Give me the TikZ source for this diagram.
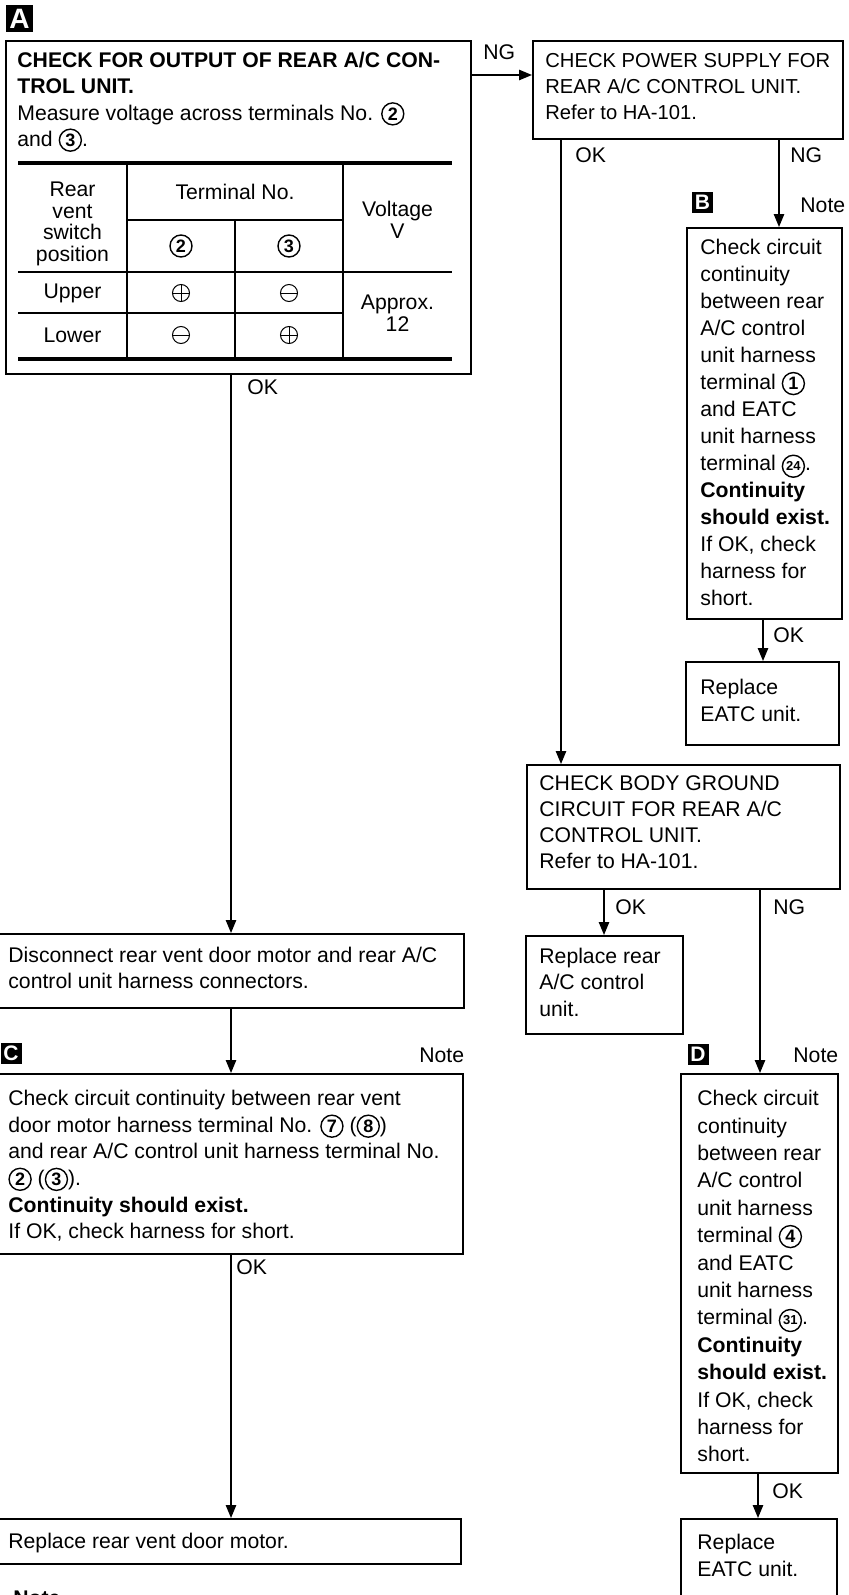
\documentclass[tikz,border=0pt]{standalone}
\usepackage{fontspec}
\setmainfont{Liberation Sans}
\usetikzlibrary{arrows.meta}

% 圈码
\newcommand{\cnum}[1]{\tikz[baseline=(cn.base)]\node[cnode] (cn) {#1};}
\newcommand{\cnumm}[1]{\tikz[baseline=(cn.base)]\node[cnode, font=\bfseries\fontsize{6.5}{6.5}\selectfont] (cn) {#1};}

\begin{document}
\begin{tikzpicture}[x=0.5pt, y=-0.5pt, >={Triangle[length=6.5pt, width=5.2pt]},
		box/.style={draw, line width=0.9pt, anchor=north west, inner sep=0pt},
		txt/.style={anchor=north west, inner sep=0pt, align=left, font=\fontsize{10.6}{13.1}\selectfont},
		ntxt/.style={txt, font=\fontsize{10.6}{13.5}\selectfont},
		lbl/.style={anchor=west, inner sep=0pt, font=\fontsize{10.6}{12}\selectfont},
		cell/.style={inner sep=0pt, align=center, font=\fontsize{10.6}{10.8}\selectfont},
		badge/.style={fill=black, text=white, inner sep=0pt, minimum size=10.5pt, font=\bfseries\fontsize{10.5}{10.5}\selectfont},
		conn/.style={->, line width=0.7pt},
		cnode/.style={circle, draw, line width=0.7pt, inner sep=0pt, minimum size=11pt, font=\bfseries\fontsize{9}{9}\selectfont},
		sgn/.style={circle, draw, line width=0.5pt, minimum size=8.5pt, inner sep=0pt},
		plussign/.style={sgn, path picture={\draw[line width=0.5pt] (path picture bounding box.west) -- (path picture bounding box.east) (path picture bounding box.north) -- (path picture bounding box.south);}},
		minussign/.style={sgn, path picture={\draw[line width=0.5pt] (path picture bounding box.west) -- (path picture bounding box.east);}}]
				\useasboundingbox (0,0) rectangle (849,1595);
				
				% 方框
				\node[box, minimum width=232.5pt, minimum height=166.5pt] (boxA) at (5,40) {};
				\node[box, minimum width=155pt, minimum height=49pt] (boxPS) at (532,40) {};
				\node[box, minimum width=77.5pt, minimum height=195.5pt] (boxB) at (686,227) {};
				\node[box, minimum width=76.5pt, minimum height=41.5pt] (boxE1) at (685,661) {};
				\node[box, minimum width=156.5pt, minimum height=62pt] (boxBG) at (526,764) {};
				\node[box, minimum width=78.5pt, minimum height=49pt] (boxR) at (525,935) {};
				\node[box, minimum width=78.5pt, minimum height=199.5pt] (boxD) at (680,1073) {};
				\node[box, minimum width=78pt, minimum height=50pt] (boxE2) at (680,1518) {};
				\node[box, minimum width=233pt, minimum height=37pt] (boxDis) at (-3,933) {};
				\node[box, minimum width=232.5pt, minimum height=90pt] (boxC) at (-3,1073) {};
				\node[box, minimum width=231.5pt, minimum height=22.5pt] (boxM) at (-3,1518) {};
				
				% 框内文字
				\node[txt] (tA) at ([shift={(12,12)}]boxA.north west) {\textbf{CHECK FOR OUTPUT OF REAR A/C CON-}\\\textbf{TROL UNIT.}\\Measure voltage across terminals No. \cnum{2}\\and \cnum{3}.};
				\node[txt, font=\fontsize{10.1}{13}\selectfont] (tPS) at ([shift={(13,13)}]boxPS.north west) {CHECK POWER SUPPLY FOR\\REAR A/C CONTROL UNIT.\\Refer to HA-101.};
				\node[ntxt] (tB) at ([shift={(14,12)}]boxB.north west) {Check circuit\\continuity\\between rear\\A/C control\\unit harness\\terminal \cnum{1}\\and EATC\\unit harness\\terminal \cnumm{24}.\\\textbf{Continuity}\\\textbf{should exist.}\\If OK, check\\harness for\\short.};
				\node[ntxt] (tE1) at ([shift={(15,18)}]boxE1.north west) {Replace\\EATC unit.};
				\node[txt] (tBG) at ([shift={(13,11)}]boxBG.north west) {CHECK BODY GROUND\\CIRCUIT FOR REAR A/C\\CONTROL UNIT.\\Refer to HA-101.};
				\node[txt] (tR) at ([shift={(14,13)}]boxR.north west) {Replace rear\\A/C control\\unit.};
				\node[ntxt, font=\fontsize{10.6}{13.7}\selectfont] (tD) at ([shift={(17,17)}]boxD.north west) {Check circuit\\continuity\\between rear\\A/C control\\unit harness\\terminal \cnum{4}\\and EATC\\unit harness\\terminal \cnumm{31}.\\\textbf{Continuity}\\\textbf{should exist.}\\If OK, check\\harness for\\short.};
				\node[ntxt] (tE2) at ([shift={(17,16)}]boxE2.north west) {Replace\\EATC unit.};
				\node[txt] (tDis) at ([shift={(11,14)}]boxDis.north west) {Disconnect rear vent door motor and rear A/C\\control unit harness connectors.};
				\node[txt, font=\fontsize{10.6}{13.3}\selectfont] (tC) at ([shift={(11,17)}]boxC.north west) {Check circuit continuity between rear vent\\door motor harness terminal No. \cnum{7} (\cnum{8})\\and rear A/C control unit harness terminal No.\\\cnum{2} (\cnum{3}).\\\textbf{Continuity should exist.}\\If OK, check harness for short.};
				\node[txt] (tM) at ([shift={(11,15)}]boxM.north west) {Replace rear vent door motor.};
				
				% 表格
				\draw[line width=1.8pt] (18,163) -- (452,163) (18,359) -- (452,359);
				\draw[line width=0.7pt] (127,163) -- (127,359) (343,163) -- (343,359) (235,220) -- (235,359)
					(127,220) -- (343,220) (18,272) -- (452,272) (18,313) -- (343,313);
				\node[cell] (cRear) at (72.5,224) {Rear\\vent\\switch\\position};
				\node[cell] (cTerm) at (235,192) {Terminal No.};
				\node[cnode] (cT2) at (181,246) {2};
				\node[cnode] (cT3) at (289,246) {3};
				\node[cell] (cVolt) at (397.5,220) {Voltage\\V};
				\node[cell] (cUp) at (72.5,293) {Upper};
				\node[cell] (cLow) at (72.5,335) {Lower};
				\node[plussign] (cUp2) at (181,293) {};
				\node[minussign] (cUp3) at (289,293) {};
				\node[minussign] (cLow2) at (181,335) {};
				\node[plussign] (cLow3) at (289,335) {};
				\node[cell] (cAppr) at (397.5,313) {Approx.\\12};
				
				% 标记
				\node[badge, minimum size=13.5pt, font=\bfseries\fontsize{14}{14}\selectfont] (badA) at (19.5,18.5) {A};
				\node[badge] (badB) at (702.5,202.5) {B};
				\node[badge] (badC) at (11,1053) {C};
				\node[badge] (badD) at (698,1054.5) {D};
				
				% 连线
				\coordinate (yNG) at (0,75);
				\coordinate (xL) at (231,0);
				\coordinate (xPSok) at (561,0);
				\coordinate (xPSng) at (779,0);
				\coordinate (xBok) at (763,0);
				\coordinate (xBGok) at (604,0);
				\coordinate (xBGng) at (760,0);
				\coordinate (xDok) at (758,0);
				\draw[conn] (boxA.east |- yNG) -- (boxPS.west |- yNG);
				\draw[conn] (boxA.south -| xL) -- (boxDis.north -| xL);
				\draw[conn] (boxDis.south -| xL) -- (boxC.north -| xL);
				\draw[conn] (boxC.south -| xL) -- (boxM.north -| xL);
				\draw[conn] (boxPS.south -| xPSok) -- (boxBG.north -| xPSok);
				\draw[conn] (boxPS.south -| xPSng) -- (boxB.north -| xPSng);
				\draw[conn] (boxB.south -| xBok) -- (boxE1.north -| xBok);
				\draw[conn] (boxBG.south -| xBGok) -- (boxR.north -| xBGok);
				\draw[conn] (boxBG.south -| xBGng) -- (boxD.north -| xBGng);
				\draw[conn] (boxD.south -| xDok) -- (boxE2.north -| xDok);
				
				% 标签
				\node[lbl] (lNG1) at (483,52) {NG};
				\node[lbl] (lOK1) at (247,387) {OK};
				\node[lbl] (lOK2) at (575,155) {OK};
				\node[lbl] (lNG2) at (790,155) {NG};
				\node[lbl] (lNoteB) at (800,205) {Note};
				\node[lbl] (lOK3) at (773,635) {OK};
				\node[lbl] (lOK4) at (615,907) {OK};
				\node[lbl] (lNG3) at (773,907) {NG};
				\node[lbl] (lNoteC) at (419,1055) {Note};
				\node[lbl] (lNoteD) at (793,1055) {Note};
				\node[lbl] (lOK5) at (236,1267) {OK};
				\node[lbl] (lOK6) at (772,1491) {OK};
				\node[txt, font=\bfseries\fontsize{10.6}{13}\selectfont] (lNoteEnd) at (13,1590) {Note};
\end{tikzpicture}
\end{document}
